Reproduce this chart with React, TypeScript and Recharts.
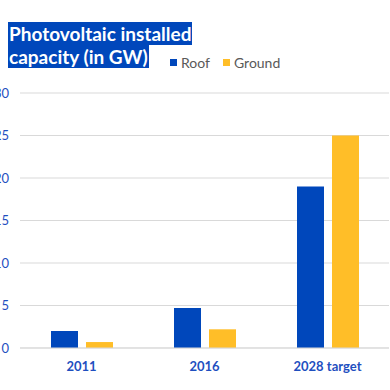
import React from 'react';
import { BarChart, Bar, XAxis, YAxis, CartesianGrid } from 'recharts';

const categories = ['2011', '2016', '2028 target'];
const roof = [2.0, 4.7, 19];
const ground = [0.7, 2.2, 25];
const yTicks = [0, 5, 10, 15, 20, 25, 30];
const seriesNames = ['Roof', 'Ground'];

const data = categories.map((name, i) => ({ name, Roof: roof[i], Ground: ground[i] }));

const BLUE = '#0047BB';
const YELLOW = '#FFBE28';
const colors = [BLUE, YELLOW];
const FONT = 'Lato, "Open Sans", sans-serif';

const App: React.FC = () => {
  return (
    <div style={{ position: 'absolute', left: 0, top: 0, width: 390, height: 390, overflow: 'hidden', background: '#fff', fontFamily: FONT }}>
      <div style={{ position: 'absolute', left: -30, top: 0 }}>
        <BarChart
          width={420}
          height={390}
          data={data}
          margin={{ top: 93, right: 1, bottom: 0, left: 0 }}
          barSize={27}
          barGap={8}
        >
          <CartesianGrid vertical={false} stroke="#d9d9d9" />
          <XAxis
            dataKey="name"
            axisLine={{ stroke: '#d9d9d9' }}
            tickLine={false}
            height={42}
            tickMargin={8}
            tick={{ fill: '#1F4FBF', fontSize: 13, fontWeight: 700, fontFamily: FONT }}
          />
          <YAxis
            domain={[0, 30]}
            ticks={yTicks}
            width={50}
            axisLine={false}
            tickLine={false}
            tickSize={0}
            tickMargin={11}
            tick={{ fill: '#1F4FBF', fontSize: 13, fontFamily: FONT }}
          />
          <Bar dataKey="Roof" fill={BLUE} isAnimationActive={false} />
          <Bar dataKey="Ground" fill={YELLOW} isAnimationActive={false} />
        </BarChart>
      </div>
      <div style={{ position: 'absolute', left: 8, top: 23, fontFamily: FONT, fontSize: 19, fontWeight: 700, lineHeight: '22.5px', color: '#fff' }}>
        <span style={{ background: BLUE, padding: '0 1px' }}>Photovoltaic installed</span>
        <br />
        <span style={{ background: BLUE, padding: '0 1px' }}>capacity (in GW)</span>
      </div>
      <div style={{ position: 'absolute', left: 170, top: 54, display: 'flex', alignItems: 'center', fontSize: 14, color: '#595959' }}>
        {seriesNames.map((s, i) => (
          <span key={s} style={{ display: 'flex', alignItems: 'center', marginRight: 13 }}>
            <span style={{ width: 7, height: 7, background: colors[i], marginRight: 4, display: 'inline-block' }} />
            {s}
          </span>
        ))}
      </div>
    </div>
  );
};

export default App;
